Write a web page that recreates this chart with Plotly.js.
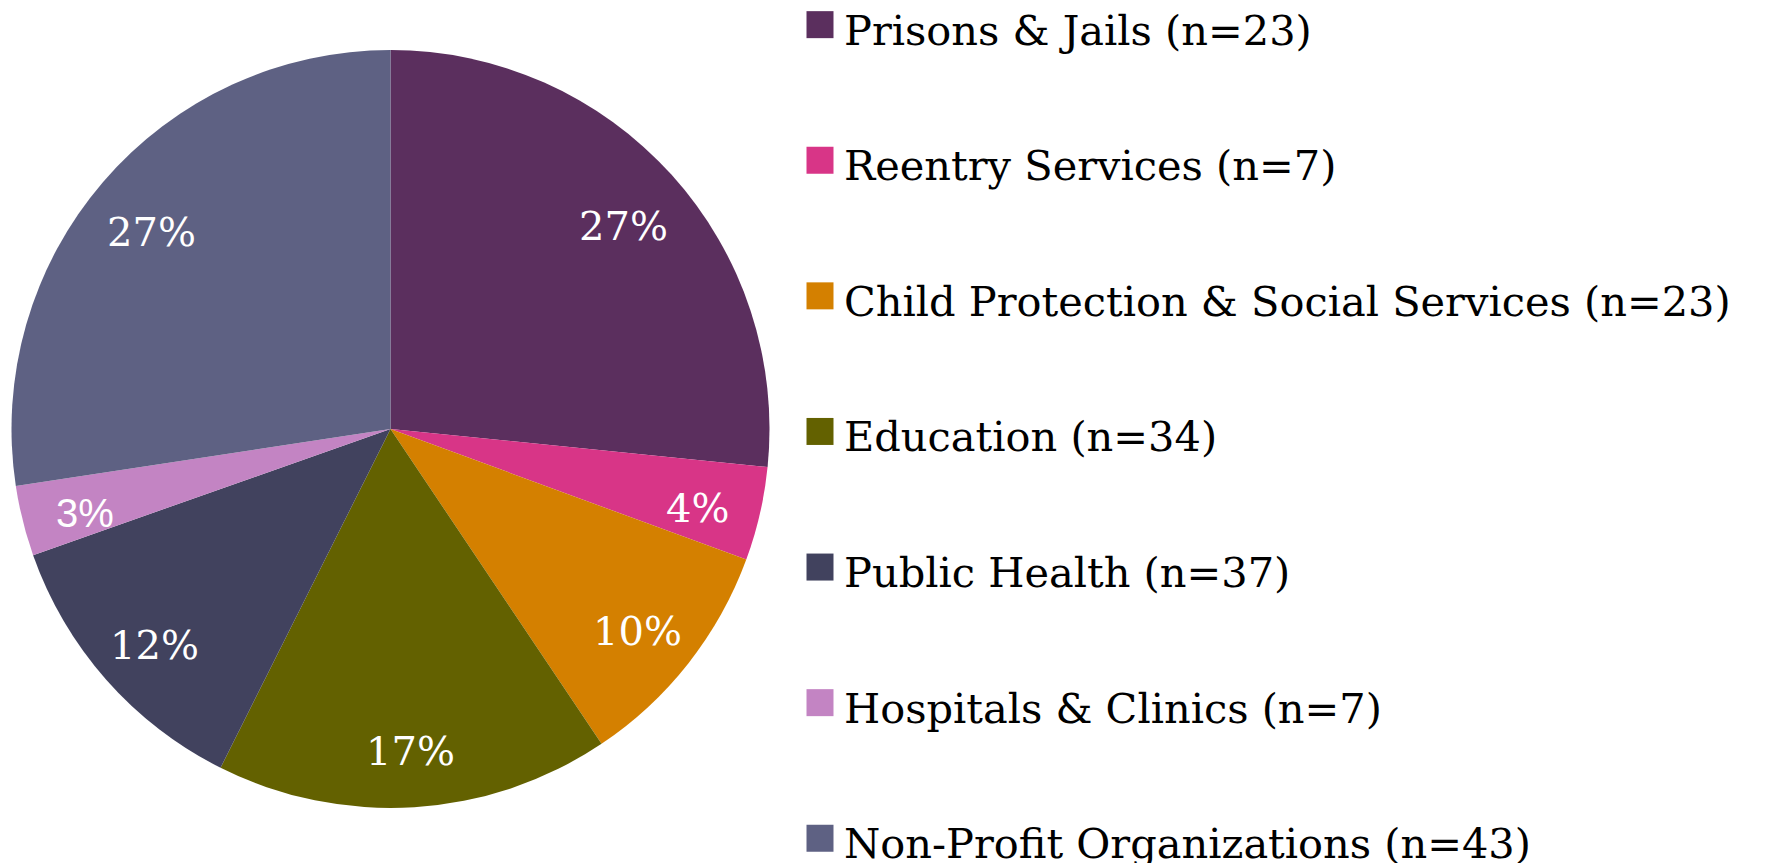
<!DOCTYPE html>
<html>
<head>
<meta charset="utf-8">
<script src="https://cdn.plot.ly/plotly-3.0.1.min.js"></script>
<style>
  html, body { margin: 0; padding: 0; background: #ffffff; }
  #chart { width: 1771px; height: 863px; }
</style>
</head>
<body>
<div id="chart"></div>
<script>
// Categories (clockwise from 12 o'clock)
const categories = [
  "Prisons & Jails",
  "Reentry Services",
  "Child Protection & Social Services",
  "Education",
  "Public Health",
  "Hospitals & Clinics",
  "Non-Profit Organizations"
];
// Respondent counts shown in the legend
const counts = [23, 7, 23, 34, 37, 7, 43];
const shares = [26.6, 4.0, 10.0, 16.8, 12.2, 3.0, 27.4];
// Slice colours
const colors = ["#5b2f5e", "#d83587", "#d48000", "#636100", "#41425e", "#c384c3", "#5e6183"];
// Label fonts (the 3% label is drawn in a sans face in the original)
const labelFonts = ["DejaVu Serif", "DejaVu Serif", "DejaVu Serif", "DejaVu Serif", "DejaVu Serif", "Liberation Sans", "DejaVu Serif"];

const W = 1771, H = 863;
const domX = [11.5 / W, 769.5 / W];
const domY = [1 - 808 / H, 1 - 50 / H];

const legendLabels = categories.map((c, i) =>
  '<span style="font-size:41.5px">' + c + ' (n=' + counts[i] + ')</span><br> ');

const trace = {
  type: 'pie',
  labels: legendLabels,
  values: shares,
  sort: false,
  direction: 'clockwise',
  rotation: 0,
  marker: { colors: colors, line: { width: 0 } },
  textinfo: 'none',
  hoverinfo: 'none',
  domain: { x: domX, y: domY },
  automargin: false
};

// Percent labels placed at each slice's mid-angle, derived from the shares
const total = shares.reduce((a, b) => a + b, 0);
const cxPx = (domX[0] + domX[1]) / 2 * W;
const cyPx = (1 - (domY[0] + domY[1]) / 2) * H;
const R = Math.min((domX[1] - domX[0]) * W, (domY[1] - domY[0]) * H) / 2;
const labelRadius = 0.83;
let cum = 0;
const annotations = shares.map((s, i) => {
  const th = 2 * Math.PI * (cum + s / 2) / total;
  cum += s;
  const xp = cxPx + labelRadius * R * Math.sin(th);
  const yp = cyPx - labelRadius * R * Math.cos(th);
  return {
    xref: 'paper', yref: 'paper',
    x: xp / W, y: 1 - yp / H,
    xanchor: 'center', yanchor: 'middle',
    yshift: -8,
    text: Math.round(100 * s / total) + '%',
    showarrow: false,
    font: { family: labelFonts[i], size: 40, color: '#ffffff' }
  };
});

const layout = {
  width: W,
  height: H,
  margin: { l: 0, r: 0, t: 0, b: 0, pad: 0, autoexpand: false },
  paper_bgcolor: '#ffffff',
  plot_bgcolor: '#ffffff',
  showlegend: true,
  annotations: annotations,
  legend: {
    x: 804 / W,
    xanchor: 'left',
    y: 1 + 15 / H,
    yanchor: 'top',
    valign: 'top',
    maxheight: 2000,
    font: { family: 'DejaVu Serif', size: 51, color: '#000000' },
    bgcolor: 'rgba(0,0,0,0)',
    borderwidth: 0,
    traceorder: 'normal'
  }
};

Plotly.newPlot('chart', [trace], layout, { staticPlot: true, displayModeBar: false }).then(function () {
  document.querySelectorAll('.legendpie').forEach(function (p) {
    p.setAttribute('d', 'M13.5,13.5H-13.5V-13.5H13.5Z');
    p.setAttribute('transform', 'translate(16,0)');
  });
});
</script>
</body>
</html>
